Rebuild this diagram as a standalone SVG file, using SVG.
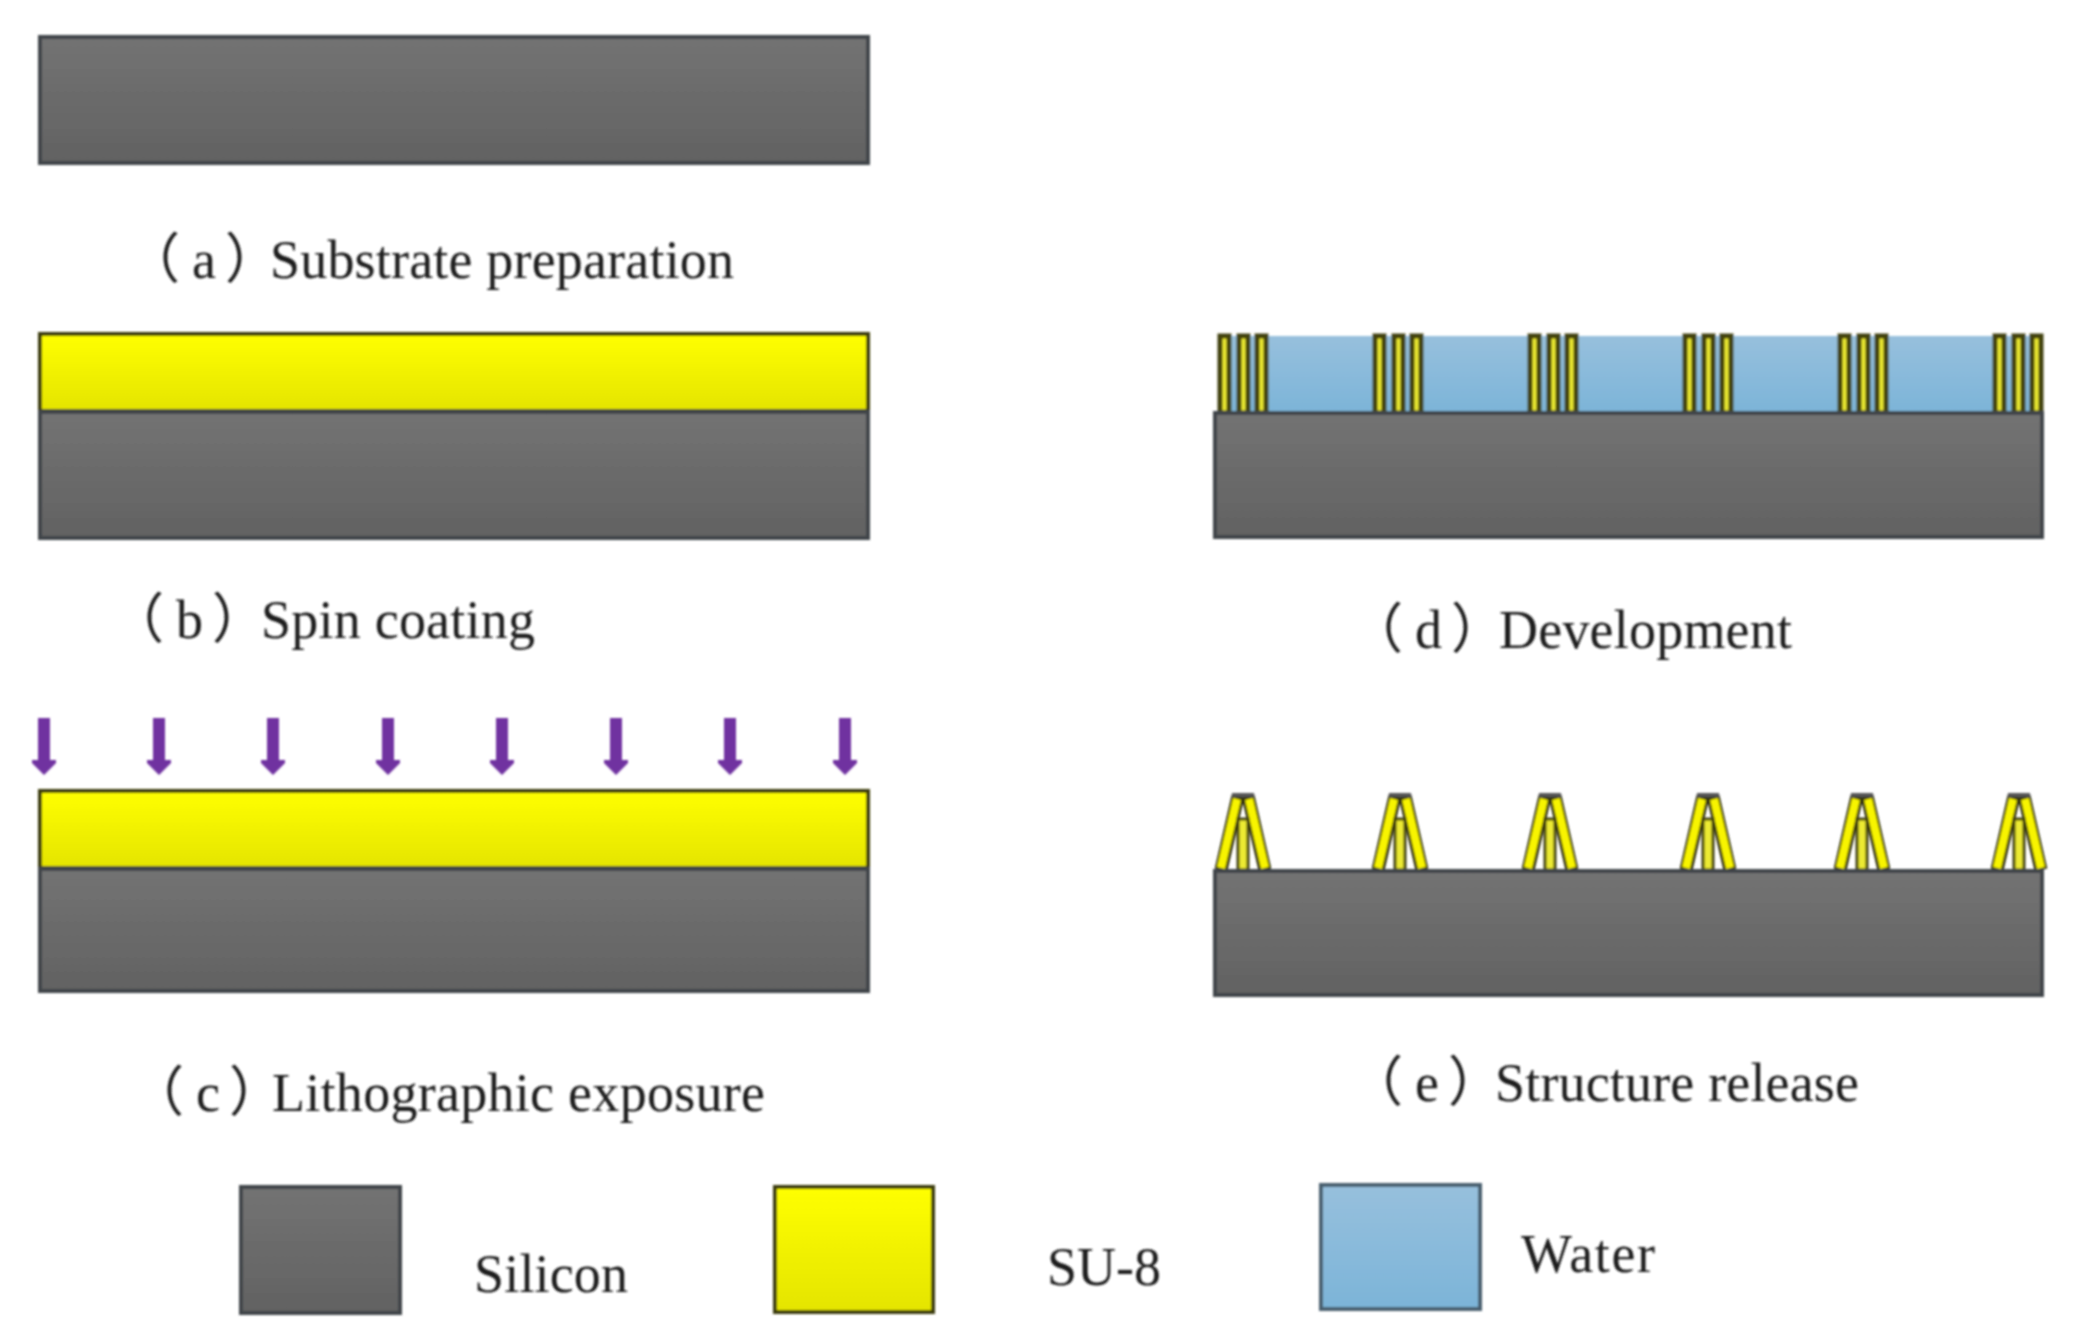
<svg xmlns="http://www.w3.org/2000/svg" width="2078" height="1344" viewBox="0 0 2078 1344">
<style>
.si{fill:url(#gs);stroke:#3f4448;stroke-width:4}
.su{fill:url(#gy);stroke:#3e3e10;stroke-width:4}
.wa{fill:url(#gw);stroke:#4a5f6e;stroke-width:4}
.w2{fill:url(#gw)}
.p{fill:#ecea30;stroke:#43430f;stroke-width:5}
.c{fill:#ecea30;stroke:#43430f;stroke-width:3}
.lo{fill:none;stroke:#33330a;stroke-width:13}
.li{fill:none;stroke:#f8f400;stroke-width:8}
.ar{fill:#7030a0}
text{font-family:"Liberation Serif","Noto Sans CJK SC",serif;font-size:54px;fill:#1c1c1c}
</style>
<defs>
<linearGradient id="gs" x1="0" y1="0" x2="0" y2="1"><stop offset="0" stop-color="#737373"/><stop offset="1" stop-color="#626262"/></linearGradient>
<linearGradient id="gy" x1="0" y1="0" x2="0" y2="1"><stop offset="0" stop-color="#ffff00"/><stop offset="1" stop-color="#e4e400"/></linearGradient>
<linearGradient id="gw" x1="0" y1="0" x2="0" y2="1"><stop offset="0" stop-color="#97c0dd"/><stop offset="1" stop-color="#7cb4d8"/></linearGradient>
<filter id="soft" filterUnits="userSpaceOnUse" x="0" y="0" width="2078" height="1344"><feGaussianBlur stdDeviation="0.8"/></filter>
<g id="pillars">
<rect class="p" x="0" y="0" width="9" height="77"/>
<rect class="p" x="19" y="0" width="9" height="77"/>
<rect class="p" x="37" y="0" width="9" height="77"/>
</g>
<g id="tripod">
<path class="lo" d="M-22,77L-5,3M22,77L5,3"/>
<path class="li" d="M-22,75L-6,6M22,75L6,6"/>
<rect class="c" x="-5" y="26" width="10" height="51"/>
<rect x="-11" y="0" width="22" height="4" fill="#555"/>
</g>
<path id="arrow" class="ar" d="M-6,0H6V42H12V45L0,57L-12,45V42H-6Z"/>
</defs>
<rect width="2078" height="1344" fill="#fff"/>
<g filter="url(#soft)">
<g id="panel-a">
<rect class="si" x="40" y="37" width="828" height="126"/>
<text y="278"><tspan x="126 192 225">（a）</tspan><tspan x="270" textLength="464">Substrate preparation</tspan></text>
</g>
<g id="panel-b">
<rect class="su" x="40" y="334" width="828" height="77"/>
<rect class="si" x="40" y="412" width="828" height="126"/>
<text y="638"><tspan x="110 176 212">（b）</tspan><tspan x="261" textLength="274">Spin coating</tspan></text>
</g>
<g id="panel-c">
<g id="arrows">
<use href="#arrow" x="44" y="718"/><use href="#arrow" x="159" y="718"/><use href="#arrow" x="273" y="718"/><use href="#arrow" x="388" y="718"/><use href="#arrow" x="502" y="718"/><use href="#arrow" x="616" y="718"/><use href="#arrow" x="730" y="718"/><use href="#arrow" x="845" y="718"/>
</g>
<rect class="su" x="40" y="791" width="828" height="77"/>
<rect class="si" x="40" y="869" width="828" height="122"/>
<text y="1111"><tspan x="130 196 229">（c）</tspan><tspan x="272" textLength="493">Lithographic exposure</tspan></text>
</g>
<g id="panel-d">
<rect class="w2" x="1218" y="336" width="822" height="77"/>
<use href="#pillars" x="1220" y="336"/><use href="#pillars" x="1375" y="336"/><use href="#pillars" x="1530" y="336"/><use href="#pillars" x="1685" y="336"/><use href="#pillars" x="1840" y="336"/><use href="#pillars" x="1995" y="336"/>
<rect class="si" x="1215" y="413" width="827" height="124"/>
<text y="648"><tspan x="1349 1415 1451">（d）</tspan><tspan x="1499" textLength="293">Development</tspan></text>
</g>
<g id="panel-e">
<use href="#tripod" x="1243" y="793"/><use href="#tripod" x="1400" y="793"/><use href="#tripod" x="1550" y="793"/><use href="#tripod" x="1708" y="793"/><use href="#tripod" x="1862" y="793"/><use href="#tripod" x="2019" y="793"/>
<rect class="si" x="1215" y="871" width="827" height="124"/>
<text y="1101"><tspan x="1349 1415 1448">（e）</tspan><tspan x="1495" textLength="364">Structure release</tspan></text>
</g>
<g id="legend-silicon">
<rect class="si" x="241" y="1187" width="159" height="126"/>
<text x="474" y="1292" textLength="154">Silicon</text>
</g>
<g id="legend-su8">
<rect class="su" x="775" y="1187" width="158" height="125"/>
<text x="1047" y="1285" textLength="114">SU-8</text>
</g>
<g id="legend-water">
<rect class="wa" x="1321" y="1185" width="159" height="124"/>
<text x="1521" y="1272" textLength="134">Water</text>
</g>
</g>
</svg>
